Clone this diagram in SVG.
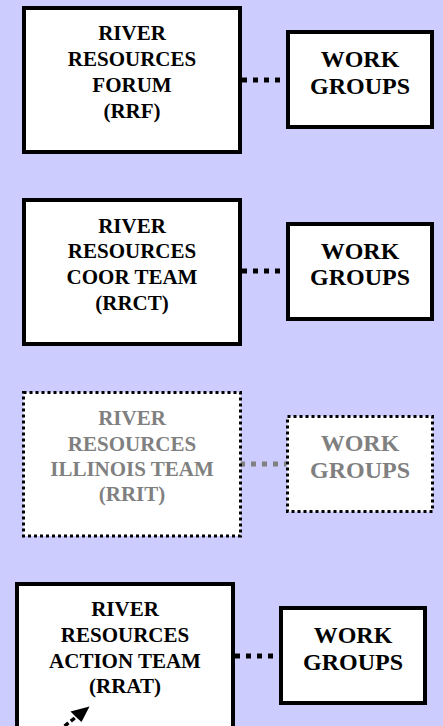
<svg xmlns="http://www.w3.org/2000/svg" width="443" height="726" viewBox="0 0 443 726">
<style>
.box{fill:#fff;stroke:#000;stroke-width:4}
.dbox{fill:#fff;stroke:#000;stroke-width:3;stroke-dasharray:3 3}
.t{font-family:"Liberation Serif","Times New Roman",serif;font-weight:bold;font-size:21px;text-anchor:middle;fill:#000}
.w{font-family:"Liberation Serif","Times New Roman",serif;font-weight:bold;font-size:24px;text-anchor:middle;fill:#000}
.g{fill:#808080}
.c{stroke:#000;stroke-width:5;stroke-dasharray:5 6;fill:none}
.cg{stroke:#808080}
</style>
<rect width="443" height="726" fill="#CCCCFF"/>
<g id="connectors">
<line class="c" x1="242" y1="80" x2="286" y2="80"/>
<line class="c" x1="242" y1="271" x2="286" y2="271"/>
<line class="c cg" x1="240" y1="464" x2="286" y2="464"/>
<line class="c" x1="235" y1="656" x2="279" y2="656"/>
</g>
<g id="rrf">
<rect class="box" x="24" y="8" width="216" height="144"/>
<text class="t" x="132" y="40">RIVER</text>
<text class="t" x="132" y="66">RESOURCES</text>
<text class="t" x="132" y="92">FORUM</text>
<text class="t" x="132" y="118">(RRF)</text>
</g>
<g id="wg1">
<rect class="box" x="288" y="32" width="144" height="95"/>
<text class="w" x="360" y="67">WORK</text>
<text class="w" x="360" y="93.5">GROUPS</text>
</g>
<g id="rrct">
<rect class="box" x="24" y="200" width="216" height="144"/>
<text class="t" x="132" y="232.5">RIVER</text>
<text class="t" x="132" y="258.3">RESOURCES</text>
<text class="t" x="132" y="284">COOR TEAM</text>
<text class="t" x="132" y="309.7">(RRCT)</text>
</g>
<g id="wg2">
<rect class="box" x="288" y="224" width="144" height="95"/>
<text class="w" x="360" y="258.5">WORK</text>
<text class="w" x="360" y="285">GROUPS</text>
</g>
<g id="rrit">
<rect class="dbox" x="23.5" y="392.5" width="217" height="143.5"/>
<text class="t g" x="132" y="425">RIVER</text>
<text class="t g" x="132" y="450.7">RESOURCES</text>
<text class="t g" x="132" y="476">ILLINOIS TEAM</text>
<text class="t g" x="132" y="501">(RRIT)</text>
</g>
<g id="wg3">
<rect class="dbox" x="287.5" y="416.5" width="145" height="95"/>
<text class="w g" x="360" y="451">WORK</text>
<text class="w g" x="360" y="477.5">GROUPS</text>
</g>
<g id="rrat">
<rect class="box" x="17" y="584" width="216" height="160"/>
<text class="t" x="125" y="616">RIVER</text>
<text class="t" x="125" y="641.7">RESOURCES</text>
<text class="t" x="125" y="667.5">ACTION TEAM</text>
<text class="t" x="125" y="693">(RRAT)</text>
</g>
<g id="wg4">
<rect class="box" x="281" y="608" width="144" height="95"/>
<text class="w" x="353" y="643">WORK</text>
<text class="w" x="353" y="670">GROUPS</text>
</g>
<g id="arrow">
<line x1="52" y1="736" x2="76" y2="717" stroke="#000" stroke-width="3.5" stroke-dasharray="5 3"/>
<polygon points="89.5,706.5 70.5,711.5 76,717 81.5,722" fill="#000"/>
</g>
</svg>
